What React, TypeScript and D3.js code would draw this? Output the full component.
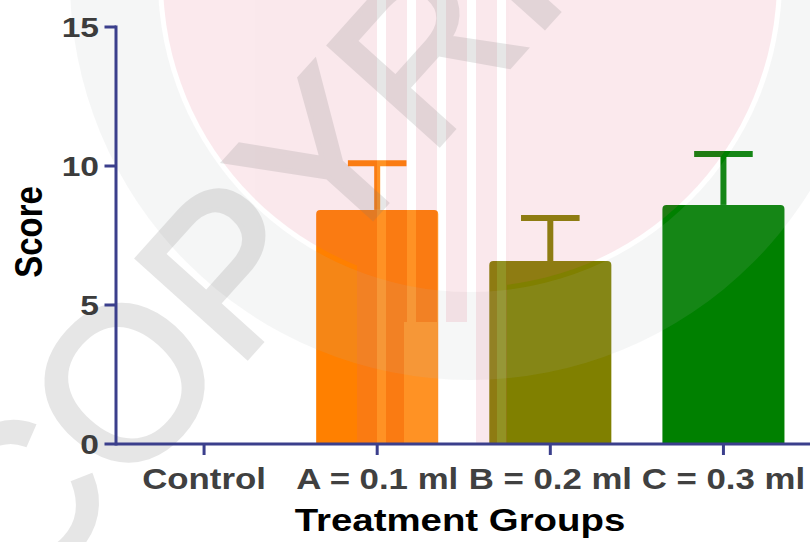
import React, { useEffect, useRef } from 'react';
import * as d3 from 'd3';

// chart values
const groups = ['Control', 'A = 0.1 ml', 'B = 0.2 ml', 'C = 0.3 ml'];
const means = [0, 8.42, 6.58, 8.6];
const errors = [0, 1.68, 1.55, 1.83];
const yTicks = [0, 5, 10, 15];
const barColors = ['#808080', '#ff8000', '#808000', '#008000'];

const width = 810;
const height = 542;
const SX = 1.2; // the source figure is stretched horizontally
const FONT = '"Liberation Sans", Arial, Helvetica, sans-serif';
const AXIS = '#3b3f8c';

const BarChart = () => {
    const svgRef = useRef<SVGSVGElement>(null);

    useEffect(() => {
        const svg = d3.select(svgRef.current);
        svg.selectAll('*').remove();

        const margin = { top: 27, right: 0, bottom: 98, left: 117.5 };

        const xScale = d3.scaleBand()
            .domain(groups)
            .range([margin.left, width - margin.right])
            .paddingInner(0.295)
            .paddingOuter(0.1475);

        const yScale = d3.scaleLinear()
            .domain([0, 15])
            .range([height - margin.bottom, margin.top]);

        svg.append('rect')
            .attr('width', width)
            .attr('height', height)
            .attr('fill', '#ffffff');

        // bars with slightly rounded tops
        const r = 4;
        const bw = xScale.bandwidth();
        const data = groups.map((g, i) => ({ g, mean: means[i], err: errors[i], color: barColors[i] }));
        const shown = data.filter(d => d.mean > 0);

        svg.selectAll('.bar')
            .data(shown)
            .enter()
            .append('path')
            .attr('class', 'bar')
            .attr('fill', d => d.color)
            .attr('d', d => {
                const x0 = xScale(d.g) as number;
                const x1 = x0 + bw;
                const y0 = yScale(0);
                const y1 = yScale(d.mean);
                return `M${x0},${y0}V${y1 + r}Q${x0},${y1} ${x0 + r},${y1}H${x1 - r}Q${x1},${y1} ${x1},${y1 + r}V${y0}Z`;
            });

        // error bars (upper only)
        const capW = bw * 0.48;
        const eb = svg.selectAll('.err')
            .data(shown)
            .enter()
            .append('g')
            .attr('class', 'err')
            .attr('stroke', d => d.color)
            .attr('stroke-width', 6);
        eb.append('line')
            .attr('x1', d => (xScale(d.g) as number) + bw / 2)
            .attr('x2', d => (xScale(d.g) as number) + bw / 2)
            .attr('y1', d => yScale(d.mean))
            .attr('y2', d => yScale(d.mean + d.err));
        eb.append('line')
            .attr('x1', d => (xScale(d.g) as number) + bw / 2 - capW / 2)
            .attr('x2', d => (xScale(d.g) as number) + bw / 2 + capW / 2)
            .attr('y1', d => yScale(d.mean + d.err))
            .attr('y2', d => yScale(d.mean + d.err));

        // faint watermark blended over the plot
        const cx = 470;
        const cy = -20;
        const ring = d3.arc()({ innerRadius: 312, outerRadius: 400, startAngle: 0, endAngle: 2 * Math.PI } as any);
        svg.append('path')
            .attr('d', ring as string)
            .attr('transform', `translate(${cx},${cy})`)
            .attr('fill', 'rgb(175,185,185)')
            .attr('opacity', 0.12);

        const pink = svg.append('g').attr('opacity', 0.14);
        pink.append('circle')
            .attr('cx', cx)
            .attr('cy', cy)
            .attr('r', 307)
            .attr('fill', 'rgb(225,100,125)');
        pink.append('rect')
            .attr('x', 357)
            .attr('y', 0)
            .attr('width', 150)
            .attr('height', 445)
            .attr('fill', 'rgb(225,100,125)');
        d3.range(357, 507, 30).forEach(x => {
            pink.append('rect')
                .attr('x', x + 20)
                .attr('y', 0)
                .attr('width', 9)
                .attr('height', 445)
                .attr('fill', '#ffffff');
        });
        pink.append('rect')
            .attr('x', 404)
            .attr('y', 322)
            .attr('width', 66)
            .attr('height', 124)
            .attr('fill', '#ffffff');

        svg.append('text')
            .attr('transform', 'translate(20,610) rotate(-48)')
            .attr('font-family', FONT)
            .attr('font-size', 215)
            .attr('fill', 'rgb(120,120,120)')
            .attr('stroke', 'rgb(120,120,120)')
            .attr('stroke-width', 5)
            .attr('opacity', 0.18)
            .text('COPYRIGHT');

        // axes
        const y0 = yScale(0);
        svg.append('line')
            .attr('x1', margin.left - 1.5).attr('x2', width)
            .attr('y1', y0).attr('y2', y0)
            .attr('stroke', AXIS).attr('stroke-width', 3);
        svg.append('line')
            .attr('x1', margin.left - 1.5).attr('x2', margin.left - 1.5)
            .attr('y1', y0 + 1.5).attr('y2', yScale(15) - 1.5)
            .attr('stroke', AXIS).attr('stroke-width', 3);

        svg.selectAll('.ytick')
            .data(yTicks)
            .enter()
            .append('line')
            .attr('class', 'ytick')
            .attr('x1', margin.left - 13).attr('x2', margin.left - 1.5)
            .attr('y1', d => yScale(d)).attr('y2', d => yScale(d))
            .attr('stroke', AXIS).attr('stroke-width', 3);

        svg.selectAll('.xtick')
            .data(groups)
            .enter()
            .append('line')
            .attr('class', 'xtick')
            .attr('x1', d => (xScale(d) as number) + bw / 2)
            .attr('x2', d => (xScale(d) as number) + bw / 2)
            .attr('y1', y0).attr('y2', y0 + 11)
            .attr('stroke', AXIS).attr('stroke-width', 3);

        svg.selectAll('.ylabel')
            .data(yTicks)
            .enter()
            .append('text')
            .attr('class', 'ylabel')
            .attr('transform', d => `translate(99,${yScale(d)}) scale(${SX},1)`)
            .attr('dy', '0.36em')
            .attr('text-anchor', 'end')
            .attr('font-family', FONT)
            .attr('font-weight', 'bold')
            .attr('font-size', 28)
            .attr('fill', '#3c3c3c')
            .text(d => d);

        svg.selectAll('.xlabel')
            .data(groups)
            .enter()
            .append('text')
            .attr('class', 'xlabel')
            .attr('transform', d => `translate(${(xScale(d) as number) + bw / 2},489) scale(${SX},1)`)
            .attr('text-anchor', 'middle')
            .attr('font-family', FONT)
            .attr('font-weight', 'bold')
            .attr('font-size', 29)
            .attr('fill', '#404040')
            .text(d => d);

        svg.append('text')
            .attr('transform', `translate(460,531) scale(${SX},1)`)
            .attr('text-anchor', 'middle')
            .attr('font-family', FONT)
            .attr('font-weight', 'bold')
            .attr('font-size', 32)
            .attr('fill', '#000000')
            .text('Treatment Groups');

        svg.append('text')
            .attr('transform', `translate(28,232) scale(${SX},1) rotate(-90)`)
            .attr('dy', '0.36em')
            .attr('text-anchor', 'middle')
            .attr('font-family', FONT)
            .attr('font-weight', 'bold')
            .attr('font-size', 33)
            .attr('fill', '#000000')
            .text('Score');
    }, []);

    return <svg ref={svgRef} width={width} height={height} style={{ position: 'absolute', left: 0, top: 0 }} />;
};

export default function App() {
    return <BarChart />;
}
